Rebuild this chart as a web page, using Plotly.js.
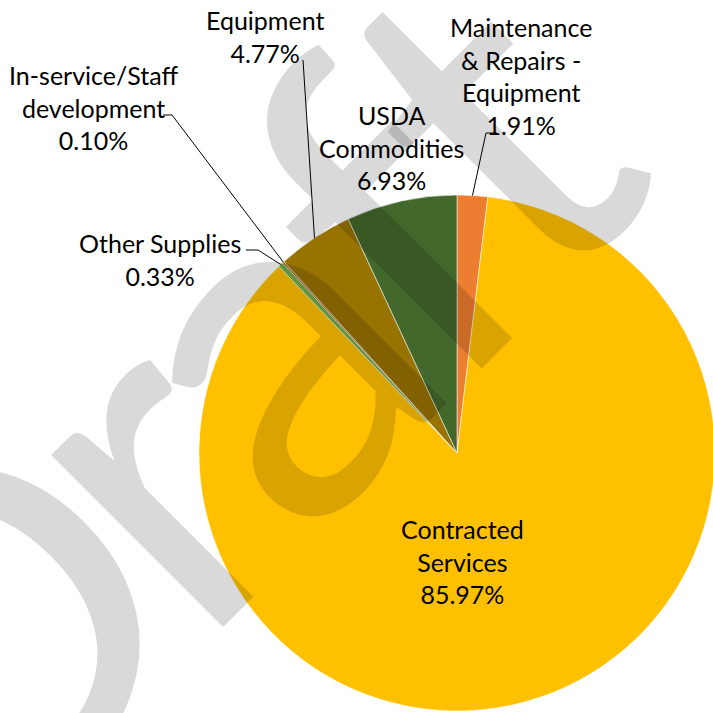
<!DOCTYPE html>
<html>
<head>
<meta charset="utf-8">
<script src="https://cdn.plot.ly/plotly-3.0.1.min.js"></script>
<style>
  html, body { margin: 0; padding: 0; overflow: hidden; background: #fff; }
  #chart { width: 720px; height: 720px; }
</style>
</head>
<body>
<div id="chart"></div>
<script>
// ---- data ----
const categories = ["Maintenance & Repairs - Equipment", "Contracted Services", "Other Supplies",
                    "In-service/Staff development", "Equipment", "USDA Commodities"];
const labelLines = [["Maintenance", "& Repairs -", "Equipment"], ["Contracted", "Services"], ["Other Supplies"],
                    ["In-service/Staff", "development"], ["Equipment"], ["USDA", "Commodities"]];
const values = [1.91, 85.97, 0.33, 0.10, 4.77, 6.93];
const colors = ["#ED7D31", "#FFC000", "#70AD47", "#9E480E", "#997300", "#43682B"];
const watermarkText = "Draft";

// ---- layout geometry (pixels) ----
const W = 720, H = 720;
const CX = 457, CY = 453, R = 258;
const px = x => x / W;
const py = y => 1 - y / H;

// label centres and leader-line elbows (pixels)
const labelPos = [[521, 76], [462, 561], [160, 259], [93, 107], [265, 36], [392, 148]];
const elbows = [[[486, 133], [497, 133]], null, [[258, 250], [246, 250]], [[172, 115], [163, 115]], [[303, 60]], null];

const total = values.reduce((a, b) => a + b, 0);
function midEdge(i) {
  let cum = 0;
  for (let k = 0; k < i; k++) cum += values[k];
  const frac = (cum + values[i] / 2) / total;
  const th = frac * 2 * Math.PI;
  return [CX + R * Math.sin(th), CY - R * Math.cos(th)];
}

const trace = {
  type: "pie",
  labels: categories,
  values: values,
  sort: false,
  direction: "clockwise",
  rotation: 0,
  textinfo: "none",
  hoverinfo: "skip",
  marker: { colors: colors, line: { color: "rgba(255,255,255,0.7)", width: 0.75 } },
  domain: { x: [px(CX - R), px(CX + R)], y: [py(CY + R), py(CY - R)] },
  showlegend: false
};

const annotations = [];
categories.forEach((c, i) => {
  const lines = labelLines[i].concat([values[i].toFixed(2) + "%"]);
  annotations.push({
    xref: "paper", yref: "paper",
    x: px(labelPos[i][0]), y: py(labelPos[i][1]),
    xanchor: "center", yanchor: "middle",
    text: lines.join("<br>"),
    showarrow: false,
    font: { family: "Lato, 'Open Sans', sans-serif", size: 25, color: "#000" }
  });
});
// watermark
annotations.push({
  xref: "paper", yref: "paper",
  x: px(175), y: py(412),
  xanchor: "center", yanchor: "middle",
  text: watermarkText,
  textangle: -45,
  showarrow: false,
  font: { family: "Lato, sans-serif", size: 480, color: "rgba(0,0,0,0.15)" }
});

const shapes = [];
elbows.forEach((e, i) => {
  if (!e) return;
  const p0 = midEdge(i);
  let d = "M " + px(p0[0]) + " " + py(p0[1]);
  e.forEach(p => { d += " L " + px(p[0]) + " " + py(p[1]); });
  shapes.push({ type: "path", xref: "paper", yref: "paper", path: d, line: { color: "#000", width: 1 } });
});

Plotly.newPlot("chart", [trace], {
  width: W, height: H,
  margin: { l: 0, r: 0, t: 0, b: 0, pad: 0 },
  paper_bgcolor: "#fff",
  plot_bgcolor: "#fff",
  annotations: annotations,
  shapes: shapes
}, { staticPlot: true }).then(() => {
  const texts = document.querySelectorAll("#chart .annotation-text");
  const wm = texts[texts.length - 1];
  if (wm) wm.style.letterSpacing = "-28px";
});
</script>
</body>
</html>
